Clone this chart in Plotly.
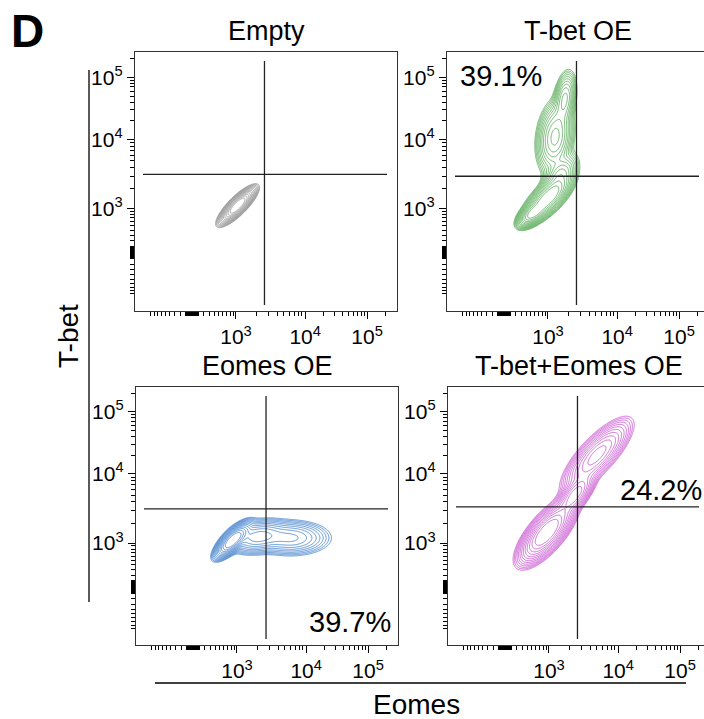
import numpy as np
import plotly.graph_objects as go

# ---------------- data ----------------
panel_titles = ["Empty", "T-bet OE", "Eomes OE", "T-bet+Eomes OE"]
panel_colors = ["#939393", "#4ea64e", "#3f7fcb", "#c64fcf"]
quadrant_labels = ["", "39.1%", "39.7%", "24.2%"]
gate_eomes = [2650, 2650, 2700, 2650]
gate_tbet = [3200, 3000, 3200, 3400]

major_tick_values = [1e3, 1e4, 1e5]
major_tick_labels = ["10<sup>3</sup>", "10<sup>4</sup>", "10<sup>5</sup>"]
minor_tick_values = (
    [-v for v in range(100, 1000, 100)] + [-v for v in range(10, 100, 10)] + [0]
    + list(range(10, 100, 10)) + list(range(100, 1000, 100))
    + list(range(2000, 10000, 1000)) + list(range(20000, 100000, 10000)) + [200000]
)

# Population components per panel (Eomes centre, T-bet centre, spread in decades x / y,
# correlation, weight) estimated from the contour shapes.
empty_eomes = [1060]
empty_tbet = [1110]
empty_sdx = [0.105]
empty_sdy = [0.105]
empty_rho = [0.82]
empty_w = [1.0]

tbetoe_eomes = [1000, 540, 1530, 1285, 1800]
tbetoe_tbet = [1450, 820, 3100, 10900, 45000]
tbetoe_sdx = [0.14, 0.09, 0.11, 0.11, 0.07]
tbetoe_sdy = [0.14, 0.08, 0.13, 0.22, 0.17]
tbetoe_rho = [0.72, 0.6, 0.5, 0.2, 0.3]
tbetoe_w = [0.42, 0.12, 0.10, 0.27, 0.09]

eomesoe_eomes = [850, 2000, 6000]
eomesoe_tbet = [1100, 1250, 1200]
eomesoe_sdx = [0.105, 0.18, 0.25]
eomesoe_sdy = [0.105, 0.105, 0.11]
eomesoe_rho = [0.75, 0.25, 0.0]
eomesoe_w = [0.42, 0.28, 0.30]

dual_eomes = [920, 2440, 5030]
dual_tbet = [1450, 5020, 20000]
dual_sdx = [0.16, 0.12, 0.20]
dual_sdy = [0.18, 0.14, 0.21]
dual_rho = [0.72, 0.7, 0.78]
dual_w = [0.57, 0.14, 0.29]

components = [
    (empty_eomes, empty_tbet, empty_sdx, empty_sdy, empty_rho, empty_w),
    (tbetoe_eomes, tbetoe_tbet, tbetoe_sdx, tbetoe_sdy, tbetoe_rho, tbetoe_w),
    (eomesoe_eomes, eomesoe_tbet, eomesoe_sdx, eomesoe_sdy, eomesoe_rho, eomesoe_w),
    (dual_eomes, dual_tbet, dual_sdx, dual_sdy, dual_rho, dual_w),
]

# ---------------- biexponential-like display scale ----------------
W = 510.0
A4 = np.arcsinh(1e4 / W) / np.log(10)
TOP = 0.873


def disp(v):
    a = np.arcsinh(np.asarray(v, dtype=float) / W) / np.log(10)
    return np.where(a > A4, A4 + (a - A4) * TOP, a)


# ---------------- figure ----------------
FW, FH = 704, 719


def px(x):
    return x / FW


def py(y):
    return 1 - y / FH


# panel frames in pixels: left, right, top, bottom
frames = [(135, 397, 52, 311), (447, 709, 52, 311), (136, 398, 387, 645), (448, 710, 387, 645)]
ZX = 57.0  # px from frame left to zero
zero_y = [252.5, 252.5, 587.0, 587.0]
PPD = 71.0  # px per decade

fig = go.Figure()
xs = np.arange(-0.4, 2.75, 0.01)
ys = np.arange(-0.4, 2.8, 0.01)
X, Y = np.meshgrid(xs, ys)

for i, comp in enumerate(components):
    ex, tb, sdx, sdy, rho, w = comp
    dens = np.zeros_like(X)
    for k in range(len(ex)):
        mx, my = float(disp(ex[k])), float(disp(tb[k]))
        zx = (X - mx) / sdx[k]
        zy = (Y - my) / sdy[k]
        r = rho[k]
        q = (zx ** 2 - 2 * r * zx * zy + zy ** 2) / (1 - r ** 2)
        dens += w[k] * np.exp(-q / 2) / (2 * np.pi * sdx[k] * sdy[k] * np.sqrt(1 - r ** 2))
    z = np.log10(np.maximum(dens / dens.max(), 1e-4))
    z = np.round(z, 3)
    c = panel_colors[i]
    n = "" if i == 0 else str(i + 1)
    fig.add_trace(go.Contour(
        x=np.round(xs, 3), y=np.round(ys, 3), z=z,
        xaxis="x" + n, yaxis="y" + n,
        contours=dict(start=-1.9, end=-0.1, size=0.14, coloring="lines"),
        line=dict(width=0.8, smoothing=1),
        colorscale=[[0, c], [1, c]], showscale=False, hoverinfo="skip",
    ))

tickfont = dict(family="Liberation Sans, Arial, sans-serif", size=21, color="black")
layout = dict(
    width=FW, height=FH, margin=dict(l=0, r=0, t=0, b=0),
    paper_bgcolor="white", plot_bgcolor="white", showlegend=False,
)

for i, (l, r, t, b) in enumerate(frames):
    n = "" if i == 0 else str(i + 1)
    rr = min(r, FW)
    x0 = -ZX / PPD
    x1 = x0 + (rr - l) / PPD
    y0 = -(b - zero_y[i]) / PPD
    y1 = (zero_y[i] - t) / PPD
    right_col = i in (1, 3)
    common = dict(
        showline=True, linecolor="#333333", linewidth=1.3, showgrid=False, zeroline=False,
        ticks="outside", ticklen=7, tickwidth=1.2, tickcolor="black",
        tickmode="array", tickvals=[float(v) for v in disp(major_tick_values)],
        ticktext=major_tick_labels, tickfont=tickfont,
        minor=dict(tickmode="array", tickvals=[float(v) for v in disp(minor_tick_values)],
                   ticks="outside", ticklen=4, tickwidth=1, tickcolor="black", showgrid=False),
        fixedrange=True,
    )
    layout["xaxis" + n] = dict(common, domain=[px(l), px(rr)], range=[x0, x1],
                               anchor="y" + n, mirror=True)
    layout["yaxis" + n] = dict(common, domain=[py(b), py(t)], range=[y0, y1],
                               anchor="x" + n, mirror=not right_col)

fig.update_layout(**layout)

shapes = []
annotations = []
for i, (l, r, t, b) in enumerate(frames):
    n = "" if i == 0 else str(i + 1)
    gx = float(disp(gate_eomes[i]))
    gy = float(disp(gate_tbet[i]))
    shapes.append(dict(type="line", xref="x" + n, yref="paper", x0=gx, x1=gx,
                       y0=py(b - 6), y1=py(t + 9), line=dict(color="#222222", width=1.3)))
    shapes.append(dict(type="line", xref="paper", yref="y" + n, x0=px(l + 8), x1=px(min(l + 252, FW - 5)),
                       y0=gy, y1=gy, line=dict(color="#222222", width=1.3)))
    annotations.append(dict(text=panel_titles[i], x=px((l + r) / 2), y=py(t - 21), xref="paper",
                            yref="paper", showarrow=False, xanchor="center", yanchor="middle",
                            font=dict(family="Liberation Sans, Arial, sans-serif", size=27, color="black")))

pct_pos = [None, (501, 76), (350, 622), (661, 490)]
for i, p in enumerate(pct_pos):
    if p is None:
        continue
    annotations.append(dict(text=quadrant_labels[i], x=px(p[0]), y=py(p[1]), xref="paper", yref="paper",
                            showarrow=False, xanchor="center", yanchor="middle",
                            font=dict(family="Liberation Sans, Arial, sans-serif", size=29, color="black")))

# panel letter and shared axis titles
annotations.append(dict(text="<b>D</b>", x=px(27), y=py(31), xref="paper", yref="paper", showarrow=False,
                        xanchor="center", yanchor="middle",
                        font=dict(family="Liberation Sans, Arial, sans-serif", size=46, color="black")))
annotations.append(dict(text="T-bet", x=px(68), y=py(336), xref="paper", yref="paper", showarrow=False,
                        textangle=-90, xanchor="center", yanchor="middle",
                        font=dict(family="Liberation Sans, Arial, sans-serif", size=28, color="black")))
annotations.append(dict(text="Eomes", x=px(416), y=py(704), xref="paper", yref="paper", showarrow=False,
                        xanchor="center", yanchor="middle",
                        font=dict(family="Liberation Sans, Arial, sans-serif", size=28, color="black")))
shapes.append(dict(type="line", xref="paper", yref="paper", x0=px(89), x1=px(89), y0=py(70), y1=py(602),
                   line=dict(color="black", width=1.3)))
shapes.append(dict(type="line", xref="paper", yref="paper", x0=px(155), x1=px(686), y0=py(683), y1=py(683),
                   line=dict(color="black", width=1.3)))

fig.update_layout(shapes=shapes, annotations=annotations)
fig.write_html("out.html", post_script="document.body.style.margin='0';",
               config={"displayModeBar": False})
